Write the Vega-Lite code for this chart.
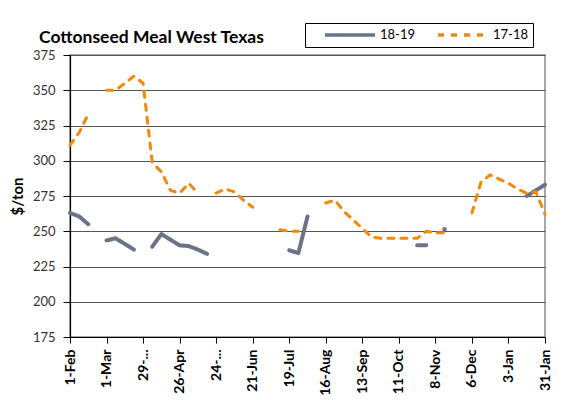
{
  "$schema": "https://vega.github.io/schema/vega-lite/v6.json",
  "width": 475,
  "height": 282,
  "autosize": {"type": "none"},
  "padding": {"left": 70, "top": 55, "right": 17, "bottom": 63},
  "background": "white",
  "config": {
    "font": "Lato",
    "view": {"stroke": "#8c8c8c", "strokeWidth": 1.5}
  },
  "title": {
    "text": "Cottonseed Meal West Texas",
    "anchor": "start",
    "frame": "group",
    "dx": -31,
    "dy": 36,
    "offset": 12,
    "fontSize": 17.5,
    "fontWeight": "bold",
    "color": "#000000",
    "font": "Lato"
  },
  "data": {
    "values": [
      {"date": "2018-02-01", "series": "17-18", "price": 311},
      {"date": "2018-02-08", "series": "17-18", "price": 320},
      {"date": "2018-02-15", "series": "17-18", "price": 333},
      {"date": "2018-02-22", "series": "17-18", "price": null},
      {"date": "2018-03-01", "series": "17-18", "price": 350},
      {"date": "2018-03-08", "series": "17-18", "price": 350},
      {"date": "2018-03-15", "series": "17-18", "price": 355},
      {"date": "2018-03-22", "series": "17-18", "price": 360},
      {"date": "2018-03-29", "series": "17-18", "price": 355},
      {"date": "2018-04-05", "series": "17-18", "price": 299},
      {"date": "2018-04-12", "series": "17-18", "price": 292},
      {"date": "2018-04-19", "series": "17-18", "price": 279},
      {"date": "2018-04-26", "series": "17-18", "price": 277},
      {"date": "2018-05-03", "series": "17-18", "price": 284},
      {"date": "2018-05-10", "series": "17-18", "price": 277},
      {"date": "2018-05-17", "series": "17-18", "price": null},
      {"date": "2018-05-24", "series": "17-18", "price": 277},
      {"date": "2018-05-31", "series": "17-18", "price": 280},
      {"date": "2018-06-07", "series": "17-18", "price": 278},
      {"date": "2018-06-14", "series": "17-18", "price": 272},
      {"date": "2018-06-21", "series": "17-18", "price": 267},
      {"date": "2018-06-28", "series": "17-18", "price": null},
      {"date": "2018-07-05", "series": "17-18", "price": null},
      {"date": "2018-07-12", "series": "17-18", "price": 251},
      {"date": "2018-07-19", "series": "17-18", "price": 250},
      {"date": "2018-07-26", "series": "17-18", "price": 250},
      {"date": "2018-08-02", "series": "17-18", "price": null},
      {"date": "2018-08-09", "series": "17-18", "price": null},
      {"date": "2018-08-16", "series": "17-18", "price": 270},
      {"date": "2018-08-23", "series": "17-18", "price": 272},
      {"date": "2018-08-30", "series": "17-18", "price": 264},
      {"date": "2018-09-06", "series": "17-18", "price": 258},
      {"date": "2018-09-13", "series": "17-18", "price": 252},
      {"date": "2018-09-20", "series": "17-18", "price": 246},
      {"date": "2018-09-27", "series": "17-18", "price": 245},
      {"date": "2018-10-04", "series": "17-18", "price": 245},
      {"date": "2018-10-11", "series": "17-18", "price": 245},
      {"date": "2018-10-18", "series": "17-18", "price": 245},
      {"date": "2018-10-25", "series": "17-18", "price": 245},
      {"date": "2018-11-01", "series": "17-18", "price": 250},
      {"date": "2018-11-08", "series": "17-18", "price": 249},
      {"date": "2018-11-15", "series": "17-18", "price": 249},
      {"date": "2018-11-22", "series": "17-18", "price": null},
      {"date": "2018-11-29", "series": "17-18", "price": null},
      {"date": "2018-12-06", "series": "17-18", "price": 263},
      {"date": "2018-12-13", "series": "17-18", "price": 285},
      {"date": "2018-12-20", "series": "17-18", "price": 290},
      {"date": "2018-12-27", "series": "17-18", "price": 287},
      {"date": "2019-01-03", "series": "17-18", "price": 284},
      {"date": "2019-01-10", "series": "17-18", "price": 280},
      {"date": "2019-01-17", "series": "17-18", "price": 277},
      {"date": "2019-01-24", "series": "17-18", "price": 278},
      {"date": "2019-01-31", "series": "17-18", "price": 262},
      {"date": "2018-02-01", "series": "18-19", "price": 263},
      {"date": "2018-02-08", "series": "18-19", "price": 260.5},
      {"date": "2018-02-15", "series": "18-19", "price": 255},
      {"date": "2018-02-22", "series": "18-19", "price": null},
      {"date": "2018-03-01", "series": "18-19", "price": 243.5},
      {"date": "2018-03-08", "series": "18-19", "price": 245},
      {"date": "2018-03-15", "series": "18-19", "price": 241},
      {"date": "2018-03-22", "series": "18-19", "price": 237},
      {"date": "2018-03-29", "series": "18-19", "price": null},
      {"date": "2018-04-05", "series": "18-19", "price": 239},
      {"date": "2018-04-12", "series": "18-19", "price": 248},
      {"date": "2018-04-19", "series": "18-19", "price": 244},
      {"date": "2018-04-26", "series": "18-19", "price": 240},
      {"date": "2018-05-03", "series": "18-19", "price": 239.5},
      {"date": "2018-05-10", "series": "18-19", "price": 237},
      {"date": "2018-05-17", "series": "18-19", "price": 234},
      {"date": "2018-05-24", "series": "18-19", "price": null},
      {"date": "2018-05-31", "series": "18-19", "price": null},
      {"date": "2018-06-07", "series": "18-19", "price": null},
      {"date": "2018-06-14", "series": "18-19", "price": null},
      {"date": "2018-06-21", "series": "18-19", "price": null},
      {"date": "2018-06-28", "series": "18-19", "price": null},
      {"date": "2018-07-05", "series": "18-19", "price": null},
      {"date": "2018-07-12", "series": "18-19", "price": null},
      {"date": "2018-07-19", "series": "18-19", "price": 236.5},
      {"date": "2018-07-26", "series": "18-19", "price": 234.5},
      {"date": "2018-08-02", "series": "18-19", "price": 260.5},
      {"date": "2018-08-09", "series": "18-19", "price": null},
      {"date": "2018-08-16", "series": "18-19", "price": null},
      {"date": "2018-08-23", "series": "18-19", "price": null},
      {"date": "2018-08-30", "series": "18-19", "price": null},
      {"date": "2018-09-06", "series": "18-19", "price": null},
      {"date": "2018-09-13", "series": "18-19", "price": null},
      {"date": "2018-09-20", "series": "18-19", "price": null},
      {"date": "2018-09-27", "series": "18-19", "price": null},
      {"date": "2018-10-04", "series": "18-19", "price": null},
      {"date": "2018-10-11", "series": "18-19", "price": null},
      {"date": "2018-10-18", "series": "18-19", "price": null},
      {"date": "2018-10-25", "series": "18-19", "price": 240},
      {"date": "2018-11-01", "series": "18-19", "price": 240},
      {"date": "2018-11-08", "series": "18-19", "price": null},
      {"date": "2018-11-15", "series": "18-19", "price": 251.5},
      {"date": "2018-11-22", "series": "18-19", "price": null},
      {"date": "2018-11-29", "series": "18-19", "price": null},
      {"date": "2018-12-06", "series": "18-19", "price": null},
      {"date": "2018-12-13", "series": "18-19", "price": null},
      {"date": "2018-12-20", "series": "18-19", "price": null},
      {"date": "2018-12-27", "series": "18-19", "price": null},
      {"date": "2019-01-03", "series": "18-19", "price": null},
      {"date": "2019-01-10", "series": "18-19", "price": null},
      {"date": "2019-01-17", "series": "18-19", "price": 275},
      {"date": "2019-01-24", "series": "18-19", "price": 279},
      {"date": "2019-01-31", "series": "18-19", "price": 283}
    ]
  },
  "encoding": {
    "x": {
      "field": "date",
      "type": "temporal",
      "scale": {"type": "utc", "domain": [1517443200000, 1548892800000], "nice": false},
      "axis": {
        "title": null,
        "values": [
          {"year": 2018, "month": 2, "date": 1, "utc": true},
          {"year": 2018, "month": 3, "date": 1, "utc": true},
          {"year": 2018, "month": 3, "date": 29, "utc": true},
          {"year": 2018, "month": 4, "date": 26, "utc": true},
          {"year": 2018, "month": 5, "date": 24, "utc": true},
          {"year": 2018, "month": 6, "date": 21, "utc": true},
          {"year": 2018, "month": 7, "date": 19, "utc": true},
          {"year": 2018, "month": 8, "date": 16, "utc": true},
          {"year": 2018, "month": 9, "date": 13, "utc": true},
          {"year": 2018, "month": 10, "date": 11, "utc": true},
          {"year": 2018, "month": 11, "date": 8, "utc": true},
          {"year": 2018, "month": 12, "date": 6, "utc": true},
          {"year": 2019, "month": 1, "date": 3, "utc": true},
          {"year": 2019, "month": 1, "date": 31, "utc": true}
        ],
        "labelExpr": "(utcFormat(datum.value, '%-d-%b') == '29-Mar' || utcFormat(datum.value, '%-d-%b') == '24-May') ? slice(utcFormat(datum.value, '%-d-%b'), 0, 3) + '...' : utcFormat(datum.value, '%-d-%b')",
        "labelAngle": 270,
        "labelAlign": "right",
        "labelBaseline": "middle",
        "labelFontSize": 14,
        "labelFontWeight": "bold",
        "labelColor": "#000000",
        "labelPadding": 6,
        "labelOverlap": false,
        "labelFlush": false,
        "labelBound": false,
        "tickSize": 6,
        "tickColor": "#000000",
        "domainColor": "#000000",
        "domainWidth": 1.2,
        "grid": false
      }
    },
    "y": {
      "field": "price",
      "type": "quantitative",
      "scale": {"domain": [175, 375], "nice": false, "zero": false},
      "axis": {
        "title": "$/ton",
        "titleFontSize": 15,
        "titleFontWeight": "bold",
        "titleColor": "#000000",
        "titlePadding": 7,
        "values": [175, 200, 225, 250, 275, 300, 325, 350, 375],
        "labelFontSize": 13,
        "labelColor": "#333333",
        "labelPadding": 8,
        "tickSize": 7,
        "tickColor": "#000000",
        "domainColor": "#000000",
        "domainWidth": 1.2,
        "grid": true,
        "gridColor": "#555555",
        "gridWidth": 1.2
      }
    },
    "color": {
      "field": "series",
      "type": "nominal",
      "scale": {"domain": ["18-19", "17-18"], "range": ["#6b7387", "#f5870a"]},
      "legend": {
        "title": null,
        "orient": "none",
        "legendX": 235,
        "legendY": -32,
        "direction": "horizontal",
        "strokeColor": "#000000",
        "fillColor": "#ffffff",
        "padding": 5,
        "symbolType": "M-5,0H5",
        "symbolSize": 100,
        "symbolOffset": 33,
        "symbolStrokeWidth": 3.5,
        "labelFontSize": 13,
        "labelColor": "#000000",
        "labelOffset": 23,
        "columnPadding": 8
      }
    },
    "strokeDash": {
      "field": "series",
      "type": "nominal",
      "scale": {"domain": ["18-19", "17-18"], "range": [[1, 0], [6, 7]]},
      "legend": {
        "title": null,
        "orient": "none",
        "legendX": 235,
        "legendY": -32,
        "direction": "horizontal",
        "strokeColor": "#000000",
        "fillColor": "#ffffff",
        "padding": 5,
        "symbolType": "M-5,0H5",
        "symbolSize": 100,
        "symbolOffset": 33,
        "symbolStrokeWidth": 3.5,
        "labelFontSize": 13,
        "labelColor": "#000000",
        "labelOffset": 23,
        "columnPadding": 8
      }
    }
  },
  "layer": [
    {
      "transform": [{"filter": "datum.series == '18-19'"}],
      "mark": {"type": "line", "strokeWidth": 4, "strokeCap": "round", "strokeJoin": "round", "invalid": "break-paths-filter-domains"}
    },
    {
      "transform": [{"filter": "datum.series == '18-19' && datum.price == 251.5"}],
      "mark": {"type": "point", "filled": true, "size": 20, "opacity": 1},
      "encoding": {"strokeDash": {"value": [1, 0]}}
    },
    {
      "transform": [{"filter": "datum.series == '17-18'"}],
      "mark": {"type": "line", "strokeWidth": 3, "strokeCap": "round", "strokeJoin": "round", "invalid": "break-paths-filter-domains"}
    }
  ]
}
